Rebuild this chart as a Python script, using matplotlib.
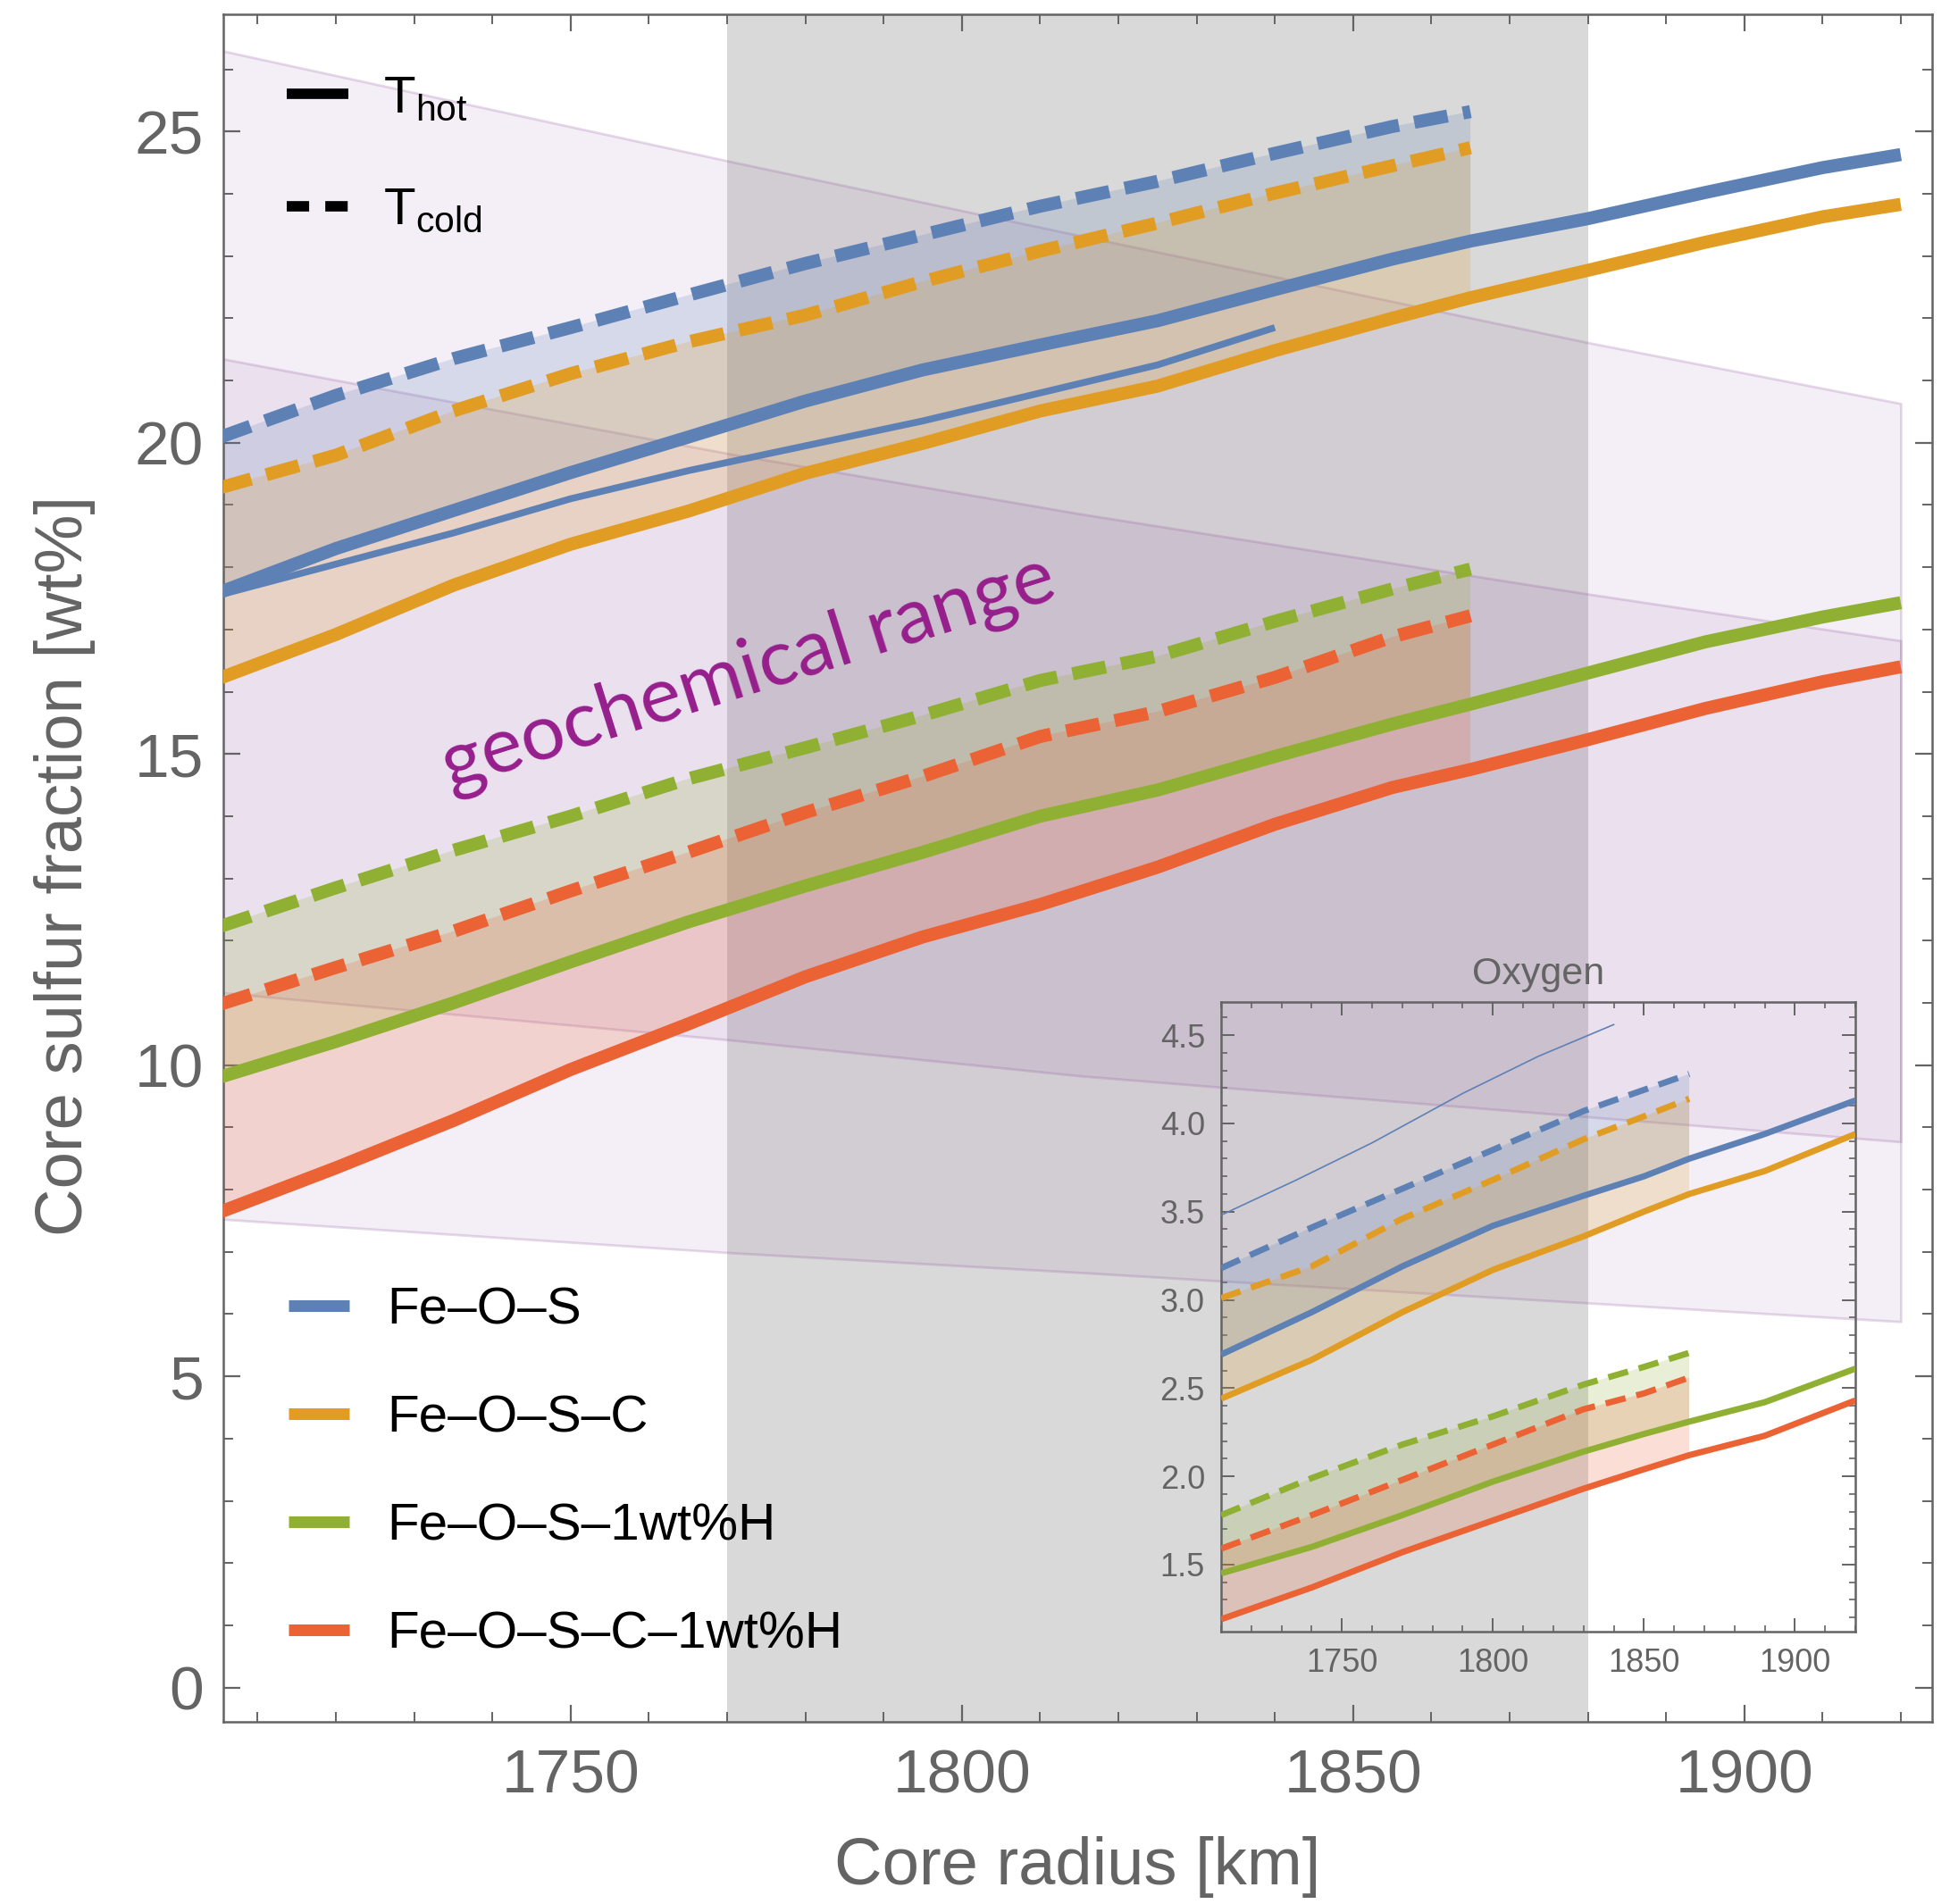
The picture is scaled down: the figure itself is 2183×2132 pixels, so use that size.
import numpy as np
import matplotlib.pyplot as plt
from matplotlib.lines import Line2D
from matplotlib.ticker import MultipleLocator

plt.rcParams['font.family'] = ['Liberation Sans', 'DejaVu Sans']
plt.rcParams['mathtext.default'] = 'regular'

# ---- main panel: core sulfur fraction [wt%] vs core radius [km] ----
radius_cold = [1705, 1720, 1735, 1750, 1765, 1780, 1795, 1810, 1825, 1840, 1855, 1865]
radius_hot = radius_cold + [1880, 1895, 1910, 1920]

feos_cold = [20.08, 20.76, 21.35, 21.85, 22.37, 22.88, 23.34, 23.80, 24.20, 24.65, 25.08, 25.32]
feosc_cold = [19.27, 19.80, 20.51, 21.11, 21.62, 22.05, 22.59, 23.08, 23.53, 24.01, 24.45, 24.74]
feos1h_cold = [12.22, 12.85, 13.45, 14.00, 14.60, 15.10, 15.62, 16.18, 16.57, 17.13, 17.65, 17.97]
feosc1h_cold = [10.97, 11.57, 12.15, 12.80, 13.42, 14.06, 14.64, 15.28, 15.68, 16.23, 16.88, 17.22]

feos_hot = [17.59, 18.30, 18.91, 19.52, 20.09, 20.67, 21.17, 21.57, 21.96, 22.46, 22.95, 23.24,
            23.60, 24.02, 24.42, 24.63]
feosc_hot = [16.21, 16.92, 17.71, 18.37, 18.90, 19.51, 19.99, 20.51, 20.91, 21.48, 22.00, 22.33,
             22.77, 23.22, 23.63, 23.83]
feos1h_hot = [9.80, 10.38, 11.00, 11.66, 12.30, 12.88, 13.42, 14.00, 14.42, 14.96, 15.48, 15.80,
              16.30, 16.80, 17.20, 17.43]
feosc1h_hot = [7.63, 8.35, 9.11, 9.93, 10.66, 11.42, 12.06, 12.58, 13.18, 13.87, 14.46, 14.75,
               15.23, 15.73, 16.16, 16.40]

radius_extra = [1705, 1720, 1735, 1750, 1765, 1780, 1795, 1810, 1825, 1840]
feos_extra = [17.55, 18.05, 18.55, 19.10, 19.55, 19.95, 20.35, 20.80, 21.25, 21.85]

# geochemical range (two overlapping bands)
band_r = [1705, 1770, 1815, 1880, 1920]
band_a_top = [26.31, 24.53, 23.33, 21.61, 20.63]
band_a_bot = [11.17, 10.41, 9.83, 9.17, 8.77]
band_b_top = [21.36, 19.83, 18.86, 17.57, 16.82]
band_b_bot = [7.53, 6.99, 6.67, 6.18, 5.88]

radius_window = [1770, 1880]

# ---- inset: oxygen ----
ins_r_cold = [1710, 1740, 1770, 1800, 1830, 1850, 1865]
ins_r_hot = ins_r_cold + [1890, 1920]

ox_feos_cold = [3.18, 3.41, 3.63, 3.85, 4.07, 4.19, 4.28]
ox_feosc_cold = [3.01, 3.19, 3.46, 3.68, 3.91, 4.04, 4.14]
ox_feos1h_cold = [1.78, 1.99, 2.18, 2.34, 2.52, 2.62, 2.70]
ox_feosc1h_cold = [1.59, 1.78, 1.98, 2.18, 2.38, 2.47, 2.56]

ox_feos_hot = [2.69, 2.93, 3.19, 3.42, 3.59, 3.70, 3.80, 3.94, 4.13]
ox_feosc_hot = [2.44, 2.66, 2.93, 3.17, 3.36, 3.50, 3.60, 3.73, 3.94]
ox_feos1h_hot = [1.45, 1.60, 1.78, 1.97, 2.14, 2.24, 2.31, 2.42, 2.61]
ox_feosc1h_hot = [1.19, 1.37, 1.57, 1.75, 1.93, 2.04, 2.12, 2.23, 2.43]

ins_r_extra = [1710, 1735, 1760, 1790, 1815, 1840]
ox_feos_extra = [3.48, 3.68, 3.89, 4.17, 4.38, 4.56]

labels = ['Fe–O–S', 'Fe–O–S–C', 'Fe–O–S–1wt%H', 'Fe–O–S–C–1wt%H']
colors = ['#5E81B5', '#E19C24', '#8FB032', '#EB6235']

gray = '#646464'
purple = (0.56, 0.32, 0.62)

fig = plt.figure(figsize=(21.83, 21.32), dpi=100)
ax = fig.add_axes([0.1145, 0.0957, 0.8763, 0.8970])

ax.axvspan(radius_window[0], radius_window[1], color='#d9d9d9', lw=0, zorder=0)

for top, bot in [(band_a_top, band_a_bot), (band_b_top, band_b_bot)]:
    ax.fill_between(band_r, bot, top, facecolor=purple + (0.09,),
                    edgecolor=purple + (0.22,), linewidth=2.0, zorder=1)

n = len(radius_cold)
cold = [feos_cold, feosc_cold, feos1h_cold, feosc1h_cold]
hot = [feos_hot, feosc_hot, feos1h_hot, feosc1h_hot]
for c, yc, yh in zip(colors, cold, hot):
    ax.fill_between(radius_cold, yc, yh[:n], facecolor=c, alpha=0.2, lw=0, zorder=2)
for c, yc, yh in zip(colors, cold, hot):
    ax.plot(radius_hot, yh, color=c, lw=10.5, solid_capstyle='butt', zorder=3)
    ax.plot(radius_cold, yc, color=c, lw=10.5, dashes=(2.6, 1.2),
            dash_capstyle='butt', zorder=3)
ax.plot(radius_extra, feos_extra, color=colors[0], lw=5.5, solid_capstyle='butt', zorder=3)

ax.text(1772.7, 16.3, 'geochemical range', rotation=17.5, rotation_mode='anchor',
        ha='center', va='center', color='#961E8C', fontsize=63,
        family=['Lato', 'DejaVu Sans'], zorder=4)

ax.set_xlim(1705.6, 1924.0)
ax.set_ylim(-0.55, 26.89)
ax.xaxis.set_major_locator(MultipleLocator(50))
ax.xaxis.set_minor_locator(MultipleLocator(10))
ax.yaxis.set_major_locator(MultipleLocator(5))
ax.yaxis.set_minor_locator(MultipleLocator(1))
ax.tick_params(which='both', direction='in', top=True, right=True, color=gray,
               labelcolor=gray, labelsize=50)
ax.tick_params(which='major', length=14, width=1.6)
ax.tick_params(which='minor', length=8, width=1.4)
ax.tick_params(axis='x', pad=21)
ax.tick_params(axis='y', pad=16)
for sp in ax.spines.values():
    sp.set_color(gray)
    sp.set_linewidth(1.8)

ax.set_xlabel('Core radius [km]', fontsize=53.5, color=gray, va='center')
ax.xaxis.set_label_coords(0.5, -0.0852)
ax.set_ylabel('Core sulfur fraction [wt%]', fontsize=53.5, color=gray, va='center')
ax.yaxis.set_label_coords(-0.093, 0.5014)

temp_handles = [Line2D([], [], color='k', lw=8.4, solid_capstyle='butt'),
                Line2D([], [], color='k', lw=8.4, dashes=(2.15, 1.55), dash_capstyle='butt')]
leg1 = ax.legend(temp_handles, [r'T$_{hot}$', r'T$_{cold}$'], loc='center left',
                 bbox_to_anchor=(0.0371, 0.9175), frameon=False, fontsize=42,
                 handlelength=1.18, handletextpad=0.68, labelspacing=1.22,
                 borderpad=0, borderaxespad=0)
ax.add_artist(leg1)

comp_handles = [Line2D([], [], color=c, lw=9.4, solid_capstyle='butt') for c in colors]
ax.legend(comp_handles, labels, loc='center left', bbox_to_anchor=(0.038, 0.146),
          frameon=False, fontsize=42, handlelength=1.18, handletextpad=0.72,
          labelspacing=1.15, borderpad=0, borderaxespad=0)

# ---- inset ----
axi = fig.add_axes([0.6262, 0.14306, 0.32524, 0.33086])
axi.set_facecolor('none')
ni = len(ins_r_cold)
ox_cold = [ox_feos_cold, ox_feosc_cold, ox_feos1h_cold, ox_feosc1h_cold]
ox_hot = [ox_feos_hot, ox_feosc_hot, ox_feos1h_hot, ox_feosc1h_hot]
for c, yc, yh in zip(colors, ox_cold, ox_hot):
    axi.fill_between(ins_r_cold, yc, yh[:ni], facecolor=c, alpha=0.2, lw=0, zorder=2)
for c, yc, yh in zip(colors, ox_cold, ox_hot):
    axi.plot(ins_r_hot, yh, color=c, lw=5, solid_capstyle='butt', zorder=3)
    axi.plot(ins_r_cold, yc, color=c, lw=5, dashes=(3.3, 1.8),
             dash_capstyle='butt', zorder=3)
axi.plot(ins_r_extra, ox_feos_extra, color=colors[0], lw=1.2, zorder=3)

axi.set_xlim(1710, 1920)
axi.set_ylim(1.12, 4.69)
axi.xaxis.set_major_locator(MultipleLocator(50))
axi.xaxis.set_minor_locator(MultipleLocator(10))
axi.yaxis.set_major_locator(MultipleLocator(0.5))
axi.yaxis.set_minor_locator(MultipleLocator(0.1))
axi.tick_params(which='both', direction='in', top=True, right=True, color=gray,
                labelcolor=gray, labelsize=26, pad=13)
axi.tick_params(which='major', length=11, width=1.4)
axi.tick_params(which='minor', length=5, width=1.2)
for sp in axi.spines.values():
    sp.set_color(gray)
    sp.set_linewidth(1.8)
axi.set_title('Oxygen', fontsize=31, color=gray, pad=14)

fig.savefig('out.png', dpi=100)
